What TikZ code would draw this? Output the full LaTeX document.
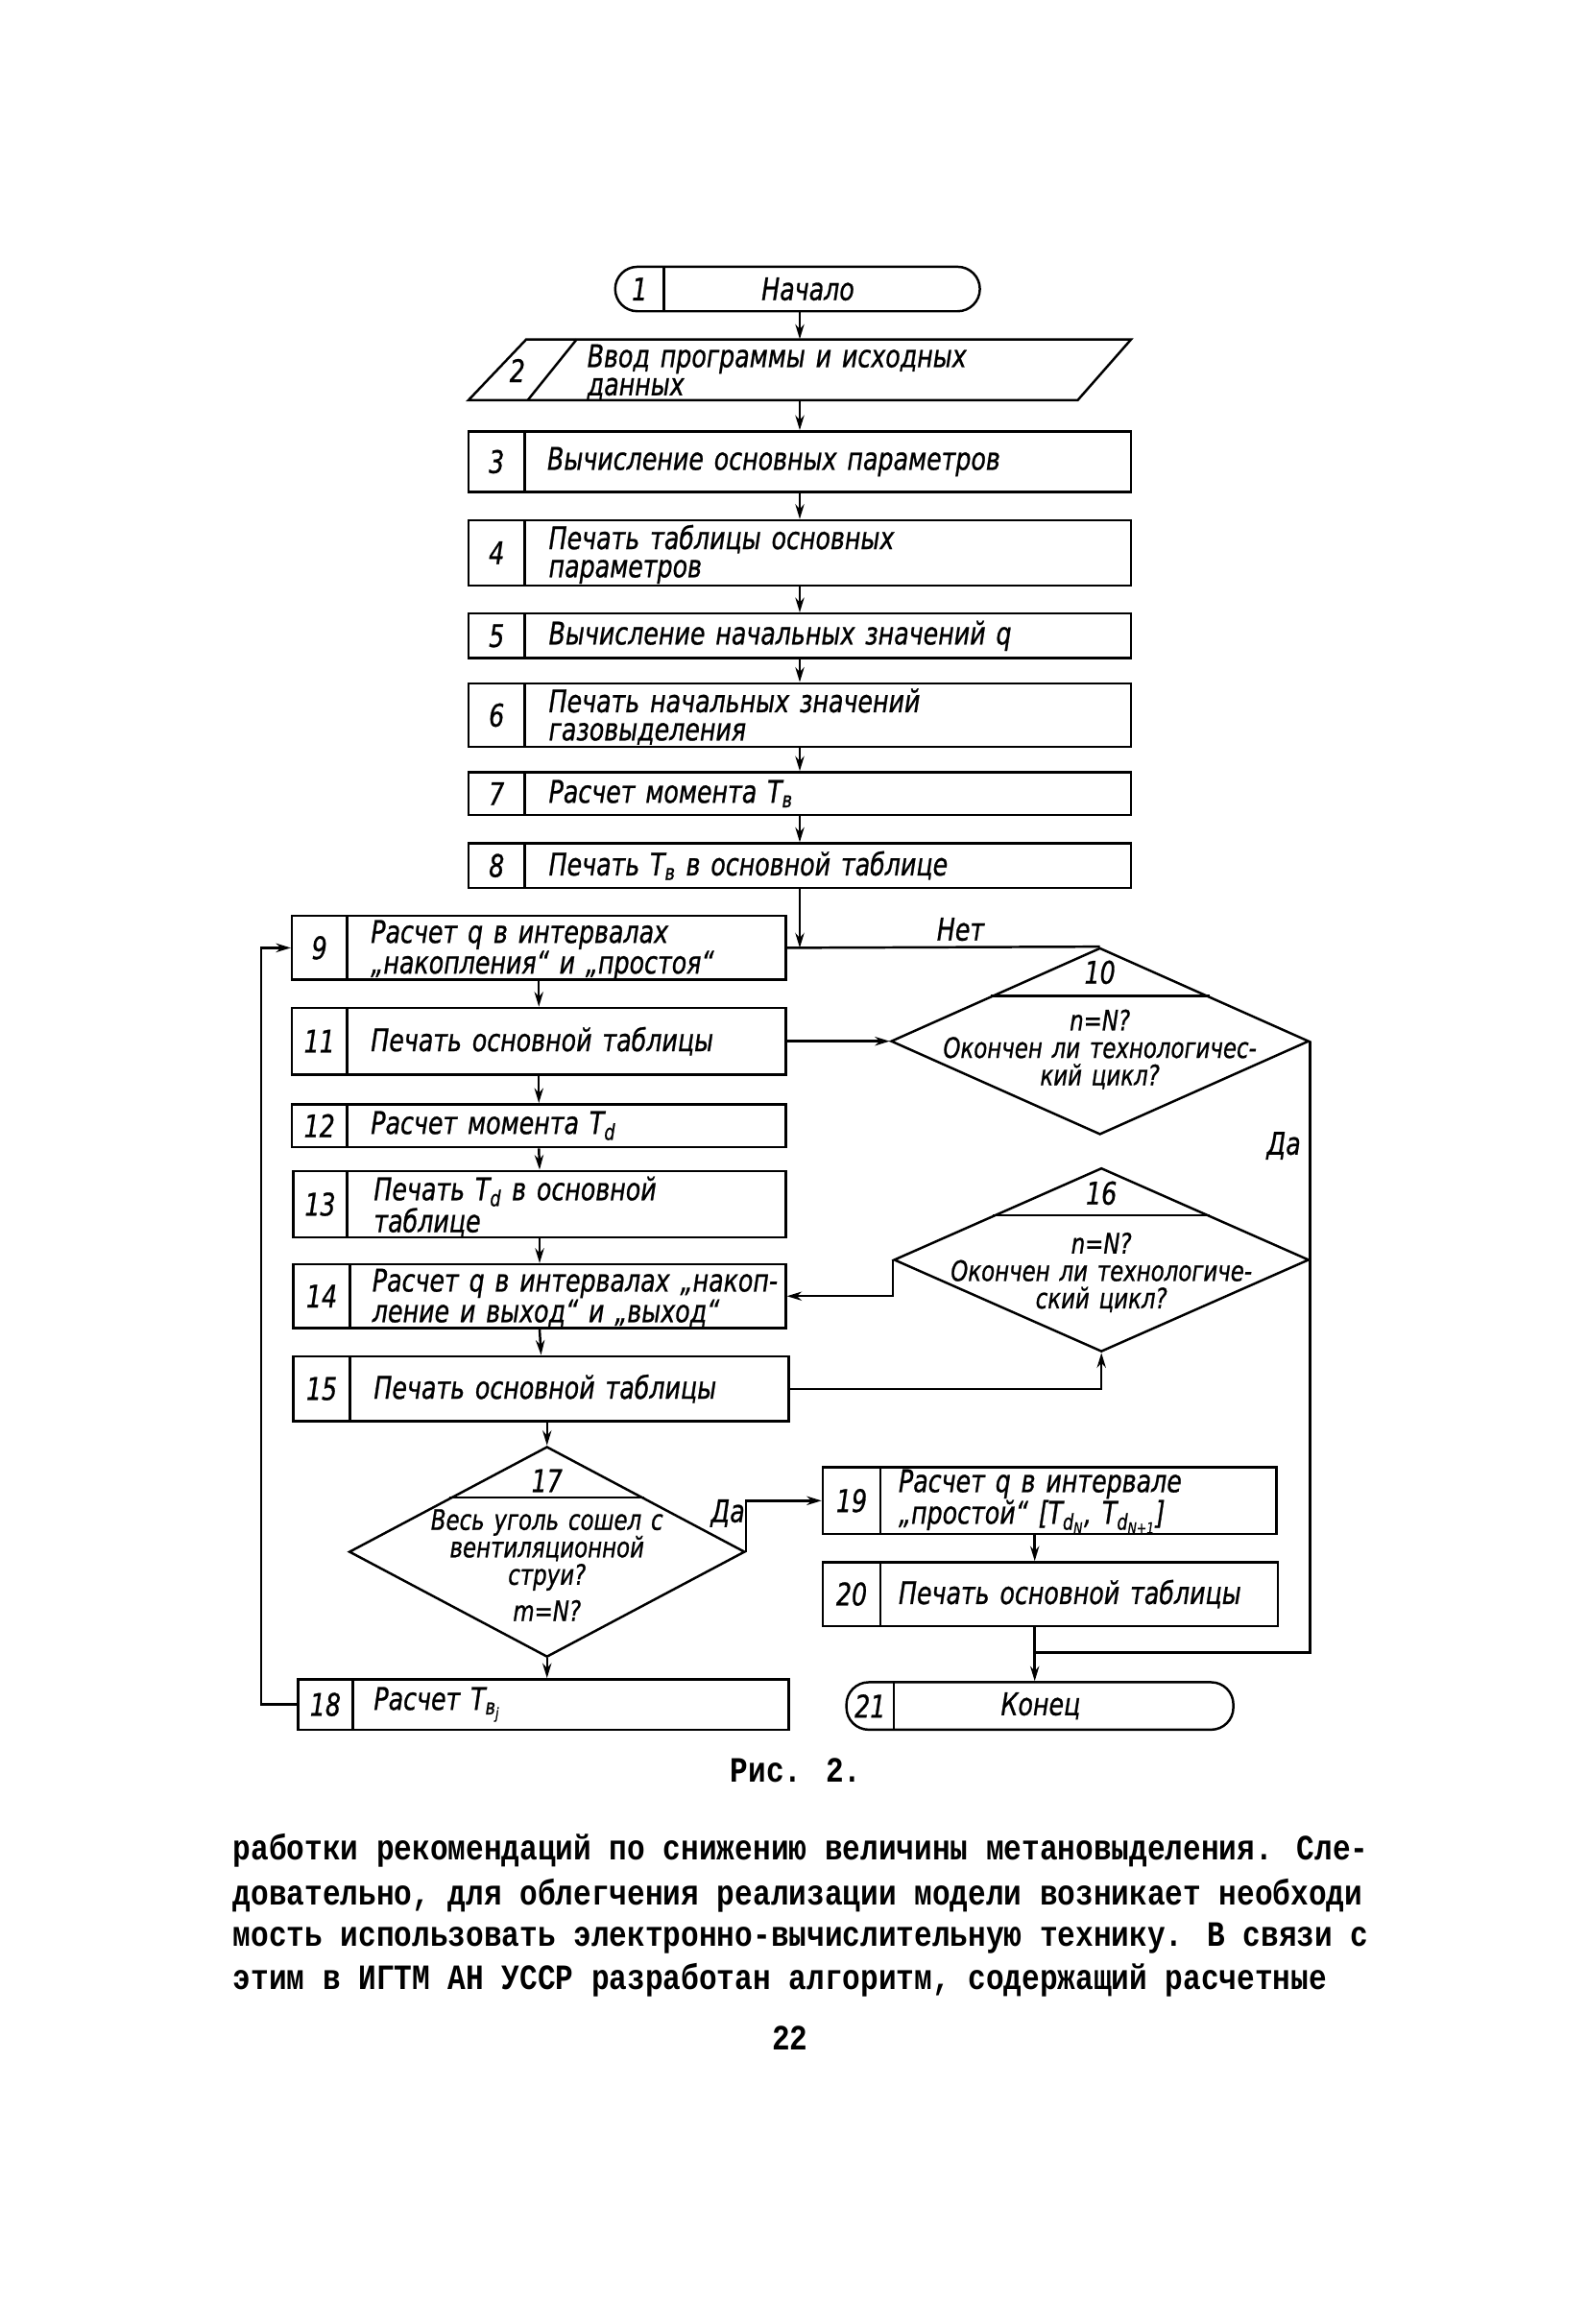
\documentclass[tikz,border=0pt]{standalone}
\usepackage{fontspec}
\usetikzlibrary{arrows.meta,calc,shapes.geometric}
\newfontfamily\gost[FakeStretch=0.78,WordSpace=1.35,FakeBold=0.8]{DejaVu Sans}
\newfontfamily\typew[FakeStretch=0.84]{Liberation Mono}

\tikzset{
  ln/.style={line width=1.6pt},
  box/.style={draw, ln, rectangle, inner sep=0pt},
  term/.style={draw, ln, rectangle, inner sep=0pt, rounded corners=15pt},
  dia/.style={draw, ln, diamond, inner sep=0pt},
  lab/.style={font=\gost\itshape\fontsize{21}{19}\selectfont, inner sep=0pt, align=left, anchor=west},
  num/.style={font=\gost\itshape\fontsize{21}{19}\selectfont, inner sep=0pt},
  dtxt/.style={font=\gost\itshape\fontsize{19}{18.5}\selectfont, inner sep=0pt, align=center},
  arr/.style={ln, -{Stealth[length=10pt,width=6pt]}},
  con/.style={ln},
  body/.style={font=\typew\bfseries\fontsize{24}{29}\selectfont, inner sep=0pt, anchor=mid west},
}

% name, left, top, right, bottom, divider x, number, style
\newcommand\fbx[8]{%
  \node[#8, minimum width={(#4)-(#2)}, minimum height={(#5)-(#3)}] (#1) at ({((#2)+(#4))/2},{((#3)+(#5))/2}) {};
  \draw[ln] (#6,#3) -- (#6,#5);
  \node[num] (#1n) at ({((#2)+(#6))/2},{((#3)+(#5))/2}) {#7};
}

\begin{document}
\begin{tikzpicture}[x=1pt,y=-1pt]
\fill[white] (0,0) rectangle (1071,1568);
\useasboundingbox (0,0) rectangle (1071,1568);

% column 1
\fbx{b1}{415}{180}{661}{210}{448}{1}{term}
\node[num] (b1t) at (545,195) {Начало};

\node[inner sep=0pt, minimum width=447pt, minimum height=41pt] (b2) at (539.5,249.5) {};
\draw[ln] (316,270) -- (355,229) -- (763,229) -- (727,270) -- cycle;
\draw[ln] (356,270) -- (389,229);
\node[num] (b2n) at (349,250) {2};
\node[lab] (b2t) at (396,251) {Ввод программы и исходных\\данных};

\fbx{b3}{316}{291}{763}{332}{354}{3}{box}
\node[lab] (b3t) at (369,311.5) {Вычисление основных параметров};
\fbx{b4}{316}{351}{763}{395}{354}{4}{box}
\node[lab] (b4t) at (370,374) {Печать таблицы основных\\параметров};
\fbx{b5}{316}{414}{763}{444}{354}{5}{box}
\node[lab] (b5t) at (370,429) {Вычисление начальных значений q};
\fbx{b6}{316}{461}{763}{504}{354}{6}{box}
\node[lab] (b6t) at (370,483.5) {Печать начальных значений\\газовыделения};
\fbx{b7}{316}{521}{763}{550}{354}{7}{box}
\node[lab] (b7t) at (370,535.5) {Расчет момента T\textsubscript{в}};
\fbx{b8}{316}{569}{763}{599}{354}{8}{box}
\node[lab] (b8t) at (370,584) {Печать T\textsubscript{в} в основной таблице};

% left column
\fbx{b9}{197}{618}{530}{661}{234}{9}{box}
\node[lab] (b9t) at (250,641) {Расчет q в интервалах\\„накопления“ и „простоя“};
\fbx{b11}{197}{680}{530}{725}{234}{11}{box}
\node[lab] (b11t) at (250,702.5) {Печать основной таблицы};
\fbx{b12}{197}{745}{530}{774}{234}{12}{box}
\node[lab] (b12t) at (250,759.5) {Расчет момента T\textsubscript{d}};
\fbx{b13}{198}{790}{530}{835}{234}{13}{box}
\node[lab] (b13t) at (252,814) {Печать T\textsubscript{d} в основной\\таблице};
\fbx{b14}{198}{853}{530}{896}{236}{14}{box}
\node[lab] (b14t) at (251,875.5) {Расчет q в интервалах „накоп-\\ление и выход“ и „выход“};
\fbx{b15}{198}{915}{532}{959}{236}{15}{box}
\node[lab] (b15t) at (252,937) {Печать основной таблицы};
\fbx{b18}{201}{1133}{532}{1167}{238}{18}{box}
\node[lab] (b18t) at (252,1150) {Расчет T\textsubscript{в\textsubscript{j}}};

% right column
\fbx{b19}{555}{990}{861}{1035}{594}{19}{box}
\node[lab] (b19t) at (606,1013) {Расчет q в интервале\\„простой“ [T\textsubscript{d\textsubscript{N}}, T\textsubscript{d\textsubscript{N+1}}]};
\fbx{b20}{555}{1054}{862}{1097}{594}{20}{box}
\node[lab] (b20t) at (606,1075.5) {Печать основной таблицы};
\fbx{b21}{571}{1135}{832}{1167}{603}{21}{term}
\node[num] (b21t) at (702,1151) {Конец};

% diamonds
\node[dia, minimum width=282pt, minimum height=126pt] (d10) at (742,702.5) {};
\draw[ln] ($(d10.north)!0.52!(d10.west)$) -- ($(d10.north)!0.52!(d10.east)$);
\node[num] (d10n) at (742,656) {10};
\node[dtxt] (d10t) at (742,708) {n=N?\\Окончен ли технологичес-\\кий цикл?};

\node[dia, minimum width=280pt, minimum height=124pt] (d16) at (743,850) {};
\draw[ln] ($(d16.north)!0.52!(d16.west)$) -- ($(d16.north)!0.52!(d16.east)$);
\node[num] (d16n) at (743,805) {16};
\node[dtxt] (d16t) at (743,858.5) {n=N?\\Окончен ли технологиче-\\ский цикл?};

\node[dia, minimum width=267pt, minimum height=142pt] (d17) at (369,1047) {};
\draw[ln] ($(d17.north)!0.49!(d17.west)$) -- ($(d17.north)!0.49!(d17.east)$);
\node[num] (d17n) at (369,999) {17};
\node[dtxt] (d17t) at (369,1056) {Весь уголь сошел с\\вентиляционной\\струи?\\[6pt]m=N?};

% connectors
\draw[arr] (b1.south -| b2.north) -- (b2.north);
\draw[arr] (b2.south) -- (b3.north);
\draw[arr] (b3.south) -- (b4.north);
\draw[arr] (b4.south) -- (b5.north);
\draw[arr] (b5.south) -- (b6.north);
\draw[arr] (b6.south) -- (b7.north);
\draw[arr] (b7.south) -- (b8.north);
\coordinate (j1) at (b8.south |- b9.east);
\draw[arr] (b8.south) -- (j1);
\draw[con] (d10.north) -- (b9.east);
\node[num] (net) at (648,627) {Нет};

\draw[arr] (b9.south) -- (b11.north);
\draw[arr] (b11.south) -- (b12.north);
\draw[arr] (b12.south) -- (b13.north);
\draw[arr] (b13.south) -- (b14.north);
\draw[arr] (b14.south) -- (b15.north);
\draw[arr] (b11.east) -- (d10.west);

\coordinate (j2) at (698,1115);
\draw[con] (d10.east) |- (j2);
\node[num] (da1) at (866,773) {Да};
\draw[arr] (b15.east) -| (d16.south);
\draw[arr] (d16.west) |- (b14.east);

\draw[arr] (d17.north |- b15.south) -- (d17.north);
\draw[arr] (d17.south) -- (d17.south |- b18.north);
\draw[arr] (b18.west) -- ++(-24,0) |- (b9.west);
\draw[arr] (d17.east) |- (b19.west);
\node[num] (da2) at (491,1021) {Да};
\draw[arr] (j2 |- b19.south) -- (j2 |- b20.north);
\draw[arr] (j2 |- b20.south) -- (j2 |- b21.north);

% caption and body text
\node[body, anchor=mid] (cap) at (537,1200) {Рис. 2.};
\node[body] (p1) at (157,1253) {работки рекомендаций по снижению величины метановыделения. Сле-};
\node[body] (p2) at (157,1283) {довательно, для облегчения реализации модели возникает необходи};
\node[body] (p3) at (157,1311) {мость использовать электронно-вычислительную технику. В связи с};
\node[body] (p4) at (157,1340) {этим в ИГТМ АН УССР разработан алгоритм, содержащий расчетные};
\node[body, anchor=mid] (pg) at (533,1381) {22};
\end{tikzpicture}
\end{document}
